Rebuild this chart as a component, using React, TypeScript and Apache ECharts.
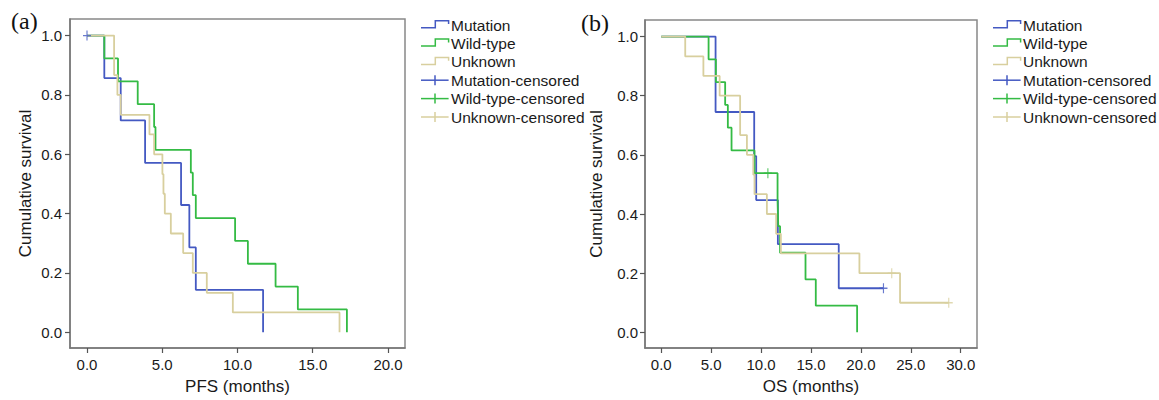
import React, { useEffect, useRef } from "react";
import * as echarts from "echarts";

// ---------- data (Kaplan–Meier step points: [months, cumulative survival]) ----------
const groupNames = ["Mutation", "Wild-type", "Unknown"];
const censoredNames = ["Mutation-censored", "Wild-type-censored", "Unknown-censored"];
const groupColors = ["#4459c2", "#34bb44", "#d8cf9e"];

// Panel (a) PFS
const pfsMutation = [[0, 1], [1.15, 0.857], [2.24, 0.714], [3.86, 0.571], [6.25, 0.429], [6.8, 0.286], [7.23, 0.143], [11.7, 0]];
const pfsWildType = [[0, 1], [1.15, 0.923], [2.06, 0.846], [3.37, 0.769], [4.46, 0.692], [4.55, 0.615], [6.9, 0.538], [7.03, 0.462], [7.23, 0.385], [9.84, 0.308], [10.69, 0.231], [12.53, 0.154], [14.01, 0.077], [17.27, 0]];
const pfsUnknown = [[0, 1], [1.8, 0.867], [2.02, 0.8], [2.24, 0.733], [4.15, 0.667], [4.46, 0.6], [5.01, 0.533], [5.08, 0.467], [5.17, 0.4], [5.57, 0.333], [6.39, 0.267], [7.03, 0.2], [7.96, 0.133], [9.69, 0.067], [16.78, 0]];
const pfsMutationCensored = [[0, 1]];
const pfsWildTypeCensored: number[][] = [];
const pfsUnknownCensored: number[][] = [];

// Panel (b) OS
const osMutation = [[0, 1], [5.44, 0.745], [9.31, 0.596], [9.51, 0.447], [11.68, 0.298], [17.78, 0.149], [22.26, 0.149]];
const osWildType = [[0, 1], [4.74, 0.923], [5.47, 0.846], [6.4, 0.769], [6.67, 0.692], [7.04, 0.615], [9.34, 0.538], [11.65, 0.449], [11.72, 0.359], [11.9, 0.269], [14.45, 0.179], [15.48, 0.09], [19.62, 0]];
const osUnknown = [[0, 1], [2.4, 0.933], [4.22, 0.867], [5.85, 0.8], [7.9, 0.667], [8.58, 0.6], [9.22, 0.533], [9.34, 0.467], [10.58, 0.4], [11.51, 0.333], [11.98, 0.267], [19.85, 0.2], [23.92, 0.1], [28.8, 0.1]];
const osMutationCensored = [[22.26, 0.149]];
const osWildTypeCensored = [[10.68, 0.538]];
const osUnknownCensored = [[23.09, 0.2], [28.8, 0.1]];

// tick labels
const yTicks = [0, 0.2, 0.4, 0.6, 0.8, 1.0];
const pfsTicks = [0, 5, 10, 15, 20];
const osTicks = [0, 5, 10, 15, 20, 25, 30];

const panelLabels = ["(a)", "(b)"];
const xTitles = ["PFS (months)", "OS (months)"];
const yTitle = "Cumulative survival";

const FONT = "'Liberation Sans', Arial, sans-serif";
const SERIF = "'Liberation Serif', 'Times New Roman', serif";
const PLUS = "path://M3,0 L4,0 L4,7 L3,7 Z M0,3 L7,3 L7,4 L0,4 Z";

function legendGraphic(iconLeft: number, textLeft: number) {
  const els: any[] = [];
  const rows = [...groupNames, ...censoredNames];
  rows.forEach((name, i) => {
    const yc = 25 + i * 18.4;
    const color = groupColors[i % 3];
    if (i < 3) {
      els.push({
        type: "polyline",
        shape: {
          points: [
            [iconLeft, yc + 2.7],
            [iconLeft + 14.3, yc + 2.7],
            [iconLeft + 14.3, yc - 4.3],
            [iconLeft + 27.6, yc - 4.3],
            [iconLeft + 27.6, yc - 1],
          ],
        },
        style: { stroke: color, lineWidth: 1.5, fill: null },
      });
    } else {
      els.push({
        type: "line",
        shape: { x1: iconLeft, y1: yc, x2: iconLeft + 27.6, y2: yc },
        style: { stroke: color, lineWidth: 1.5 },
      });
      els.push({
        type: "line",
        shape: { x1: iconLeft + 14, y1: yc - 5, x2: iconLeft + 14, y2: yc + 5 },
        style: { stroke: color, lineWidth: 1.5 },
      });
    }
    els.push({
      type: "text",
      x: textLeft,
      y: yc,
      style: {
        text: name,
        fill: "#1a1a1a",
        fontSize: 15.5,
        fontFamily: FONT,
        verticalAlign: "middle",
        align: "left",
      },
    });
  });
  return els;
}

function xAxisCfg(gridIndex: number, min: number, max: number, ticks: number[], title: string) {
  return {
    type: "value",
    gridIndex,
    min,
    max,
    name: title,
    nameLocation: "middle",
    nameGap: 30,
    nameTextStyle: { fontFamily: FONT, fontSize: 17, color: "#1a1a1a" },
    axisLine: { onZero: false, lineStyle: { color: "#777", width: 1.5 } },
    axisTick: { show: true, customValues: ticks, length: 5, lineStyle: { color: "#555", width: 1.2 } },
    axisLabel: {
      customValues: ticks,
      formatter: (v: number) => v.toFixed(1),
      fontFamily: FONT,
      fontSize: 15,
      color: "#1a1a1a",
      margin: 9,
    },
    splitLine: { show: false },
  };
}

function yAxisCfg(gridIndex: number, nameGap: number, margin: number) {
  return {
    type: "value",
    gridIndex,
    min: -0.053,
    max: 1.056,
    name: yTitle,
    nameLocation: "middle",
    nameGap,
    nameTextStyle: { fontFamily: FONT, fontSize: 17, color: "#1a1a1a" },
    axisLine: { onZero: false, lineStyle: { color: "#777", width: 1.5 } },
    axisTick: { show: true, customValues: yTicks, length: 5, lineStyle: { color: "#555", width: 1.2 } },
    axisLabel: {
      customValues: yTicks,
      formatter: (v: number) => v.toFixed(1),
      fontFamily: FONT,
      fontSize: 15,
      color: "#1a1a1a",
      margin,
    },
    splitLine: { show: false },
  };
}

function lineSeries(name: string, data: number[][], idx: number, color: string) {
  return {
    name,
    type: "line",
    step: "end",
    xAxisIndex: idx,
    yAxisIndex: idx,
    data,
    showSymbol: false,
    symbol: "none",
    lineStyle: { color, width: 1.8 },
    itemStyle: { color },
    z: 2,
  };
}

function censSeries(name: string, data: number[][], idx: number, color: string) {
  return {
    name,
    type: "scatter",
    xAxisIndex: idx,
    yAxisIndex: idx,
    data,
    symbol: PLUS,
    symbolSize: [8, 10],
    itemStyle: { color },
    z: 3,
  };
}

export default function App() {
  const ref = useRef<HTMLDivElement>(null);
  useEffect(() => {
    document.body.style.margin = "0";
    if (!ref.current) return;
    const chart = echarts.init(ref.current, undefined, { renderer: "svg" });
    const option: any = {
      animation: false,
      backgroundColor: "#ffffff",
      grid: [
        { left: 70, top: 19, width: 335, height: 334, show: true, borderColor: "#888", borderWidth: 1.5, backgroundColor: "transparent" },
        { left: 645, top: 20, width: 332, height: 332, show: true, borderColor: "#888", borderWidth: 1.5, backgroundColor: "transparent" },
      ],
      xAxis: [
        xAxisCfg(0, -1.13, 21.13, pfsTicks, xTitles[0]),
        xAxisCfg(1, -1.63, 31.63, osTicks, xTitles[1]),
      ],
      yAxis: [yAxisCfg(0, 36, 8), yAxisCfg(1, 40, 7)],
      series: [
        lineSeries(groupNames[0], pfsMutation, 0, groupColors[0]),
        lineSeries(groupNames[1], pfsWildType, 0, groupColors[1]),
        lineSeries(groupNames[2], pfsUnknown, 0, groupColors[2]),
        censSeries(censoredNames[0], pfsMutationCensored, 0, groupColors[0]),
        censSeries(censoredNames[1], pfsWildTypeCensored, 0, groupColors[1]),
        censSeries(censoredNames[2], pfsUnknownCensored, 0, groupColors[2]),
        lineSeries(groupNames[0], osMutation, 1, groupColors[0]),
        lineSeries(groupNames[1], osWildType, 1, groupColors[1]),
        lineSeries(groupNames[2], osUnknown, 1, groupColors[2]),
        censSeries(censoredNames[0], osMutationCensored, 1, groupColors[0]),
        censSeries(censoredNames[1], osWildTypeCensored, 1, groupColors[1]),
        censSeries(censoredNames[2], osUnknownCensored, 1, groupColors[2]),
      ],
      graphic: [
        {
          type: "text",
          x: 11,
          y: 9,
          style: { text: panelLabels[0], fill: "#111", fontSize: 24, fontFamily: SERIF },
        },
        {
          type: "text",
          x: 581,
          y: 11,
          style: { text: panelLabels[1], fill: "#111", fontSize: 24, fontFamily: SERIF },
        },
        ...legendGraphic(421, 451),
        ...legendGraphic(993, 1023),
      ],
    };
    chart.setOption(option);
    return () => chart.dispose();
  }, []);
  return <div ref={ref} style={{ width: 1159, height: 400 }} />;
}
